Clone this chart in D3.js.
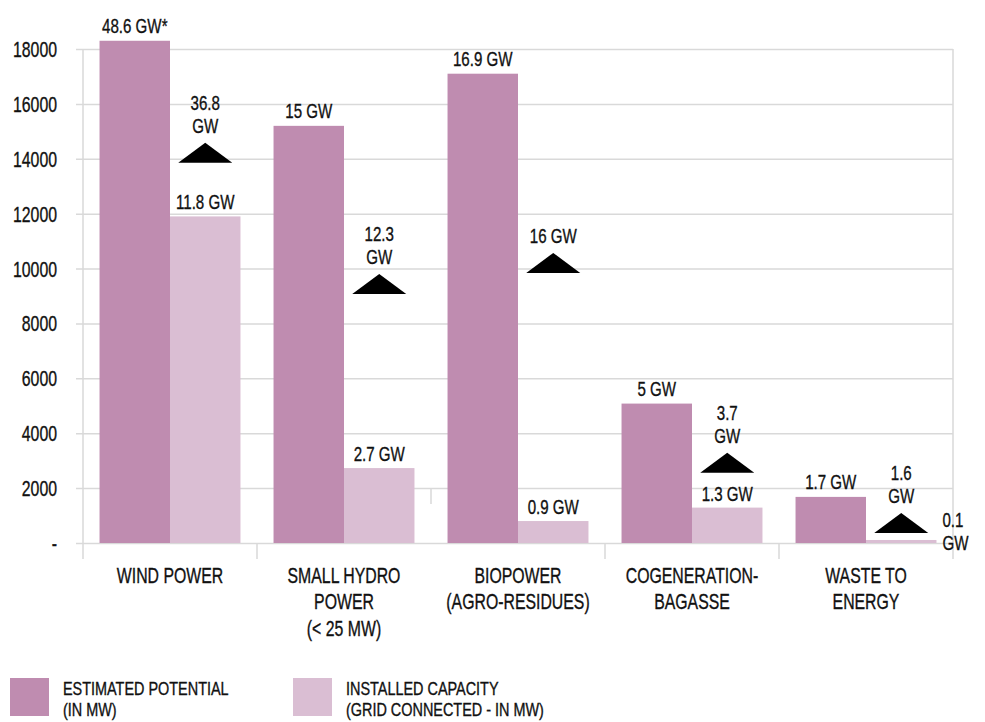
<!DOCTYPE html>
<html>
<head>
<meta charset="utf-8">
<script src="https://cdn.jsdelivr.net/npm/d3@7/dist/d3.min.js"></script>
<style>
  html, body { margin: 0; padding: 0; background: #fff; }
  svg text { font-family: "Liberation Sans", Arial, sans-serif; fill: #111; stroke: #111; stroke-width: 0.35px; }
</style>
</head>
<body>
<svg id="chart" width="985" height="722"></svg>
<script>
// ---- data ----
const categories = [["WIND POWER"], ["SMALL HYDRO", "POWER", "(< 25 MW)"], ["BIOPOWER", "(AGRO-RESIDUES)"], ["COGENERATION-", "BAGASSE"], ["WASTE TO", "ENERGY"]];
const estimated = [18300, 15200, 17100, 5080, 1680];
const installed = [11900, 2730, 800, 1290, 110];
const estimatedLabels = ["48.6 GW*", "15 GW", "16.9 GW", "5 GW", "1.7 GW"];
const installedLabels = ["11.8 GW", "2.7 GW", "0.9 GW", "1.3 GW", "0.1 GW"];
const arrowValues = [14580, 9800, 10570, 3290, 1090];
const arrowLabels = [["36.8", "GW"], ["12.3", "GW"], ["16 GW"], ["3.7", "GW"], ["1.6", "GW"]];
const yTicks = [0, 2000, 4000, 6000, 8000, 10000, 12000, 14000, 16000, 18000];
const seriesNames = [["ESTIMATED POTENTIAL", "(IN MW)"], ["INSTALLED CAPACITY", "(GRID CONNECTED - IN MW)"]];
const colors = ["#bf8cb0", "#dabed3"];

// ---- layout ----
const svg = d3.select("#chart");
const plotL = 83, plotR = 953, plotT = 49, zeroY = 543;
const grid = "#d9d9d9";
const SX = 0.72; // condensed look

function label(parent, x, yPos, lines, size, anchor, lineH, sx) {
  const t = parent.append("text")
    .attr("transform", `translate(${x},${yPos}) scale(${sx || SX},1)`)
    .attr("font-size", size).attr("text-anchor", anchor);
  lines.forEach((l, k) => t.append("tspan").attr("x", 0).attr("y", k * lineH).text(l));
  return t;
}

const x0 = d3.scaleBand().domain(d3.range(categories.length)).range([plotL, plotR]).paddingInner(0.19).paddingOuter(0.095);
const x1 = d3.scaleBand().domain([0, 1]).range([0, x0.bandwidth()]);
const y = d3.scaleLinear().domain([0, 18000]).range([zeroY, plotT]);

// gridlines
const tickLen = plotR - plotL + 7;
const yAxis = d3.axisLeft(y).tickValues(yTicks).tickSize(tickLen).tickFormat("");
const gy = svg.append("g").attr("transform", `translate(${plotR},0)`).call(yAxis);
gy.select(".domain").remove();
gy.selectAll(".tick line").attr("stroke", grid).attr("stroke-width", 1.5);
gy.selectAll(".tick text").remove();

// y labels
yTicks.forEach(v => label(svg, plotR - tickLen - 19, y(v) + 8, [v === 0 ? "-" : String(v)], 22, "end", 0));

// vertical axis line and right border
svg.append("line").attr("x1", plotL).attr("x2", plotL).attr("y1", plotT).attr("y2", zeroY + 16).attr("stroke", grid).attr("stroke-width", 1.5);
svg.append("line").attr("x1", plotR).attr("x2", plotR).attr("y1", plotT).attr("y2", zeroY + 16).attr("stroke", grid).attr("stroke-width", 1.5);

// category ticks
const bounds = d3.range(1, categories.length).map(i => x0(i) - x0.step() * x0.paddingInner() / 2);
svg.selectAll(".ctick").data(bounds).join("line")
  .attr("x1", d => d).attr("x2", d => d)
  .attr("y1", (d, i) => i === 1 ? y(2000) : zeroY)
  .attr("y2", (d, i) => (i === 1 ? y(2000) : zeroY) + 16)
  .attr("stroke", grid).attr("stroke-width", 1.5);

// bars
const groups = svg.selectAll(".grp").data(categories).join("g").attr("transform", (d, i) => `translate(${x0(i)},0)`);
const vals = [estimated, installed];
[0, 1].forEach(s => {
  groups.append("rect")
    .attr("x", x1(s)).attr("width", x1.bandwidth())
    .attr("y", (d, i) => y(vals[s][i])).attr("height", (d, i) => zeroY - y(vals[s][i]))
    .attr("fill", colors[s]);
});

groups.each(function (d, i) {
  const g = d3.select(this);
  const ex = x1(0) + x1.bandwidth() / 2;
  const cx = x1(1) + x1.bandwidth() / 2;
  // estimated label
  label(g, ex, y(estimated[i]) - 8, [estimatedLabels[i]], 21, "middle", 0);
  // installed label
  if (i === categories.length - 1) {
    label(g, x1(1) + x1.bandwidth() + 6, y(installed[i]) - 13, installedLabels[i].split(" "), 21, "start", 23);
  } else {
    label(g, cx, y(installed[i]) - 7, [installedLabels[i]], 21, "middle", 0);
  }
  // arrow triangle
  const ay = y(arrowValues[i]);
  const hw = 27, h = 20;
  g.append("path").attr("d", `M${cx},${ay} L${cx + hw},${ay + h} L${cx - hw},${ay + h} Z`).attr("fill", "#000");
  const lines = arrowLabels[i];
  label(g, cx, ay - 10 - (lines.length - 1) * 23, lines, 21, "middle", 23);
  // category label
  label(g, x0.bandwidth() / 2, 583, d, 22, "middle", 26.5);
});

// legend
const legendX = [10, 293];
seriesNames.forEach((names, s) => {
  const g = svg.append("g").attr("transform", `translate(${legendX[s]},678)`);
  g.append("rect").attr("width", 39).attr("height", 38).attr("fill", colors[s]);
  label(g, 53, 17, names, 18.5, "start", 21, 0.78);
});
</script>
</body>
</html>
